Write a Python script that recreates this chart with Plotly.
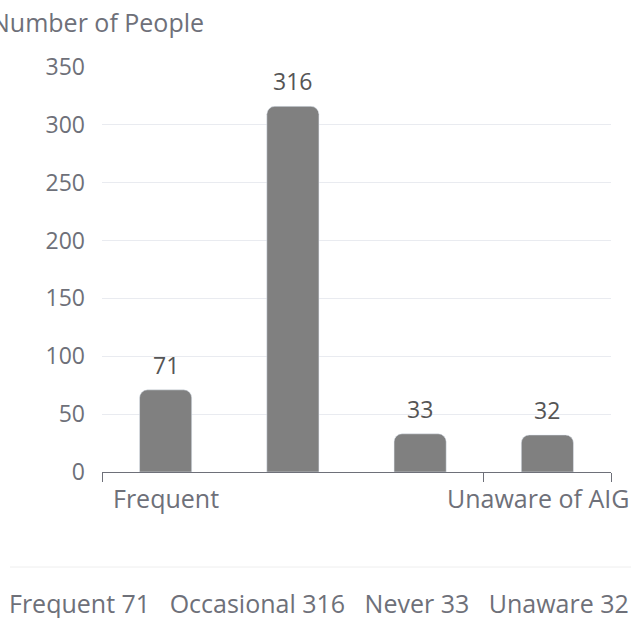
import plotly.graph_objects as go

categories = ["Frequent", "Occasional", "Never", "Unaware of AIG"]
short_names = ["Frequent", "Occasional", "Never", "Unaware"]
counts = [71, 316, 33, 32]
shown_label_idx = [0, 3]
y_ticks = [0, 50, 100, 150, 200, 250, 300, 350]

TXT = "#6E7079"
FONT = "Open Sans"

x = list(range(len(categories)))

fig = go.Figure()
fig.add_trace(go.Bar(
    x=x, y=counts,
    marker=dict(color="#808080", cornerradius=8),
    hoverinfo="skip",
))

annotations = []
# value labels above bars
for xi, v in zip(x, counts):
    annotations.append(dict(
        x=xi, y=v, xref="x", yref="y", text=str(v), showarrow=False,
        xanchor="center", yanchor="bottom", yshift=7,
        font=dict(size=23, color="#555555", family=FONT),
    ))

for i in shown_label_idx:
    annotations.append(dict(
        x=x[i], y=0, xref="x", yref="paper", text=categories[i],
        showarrow=False, yanchor="middle", yshift=-26,
        xshift=(-9 if i == len(categories) - 1 else 0),
        font=dict(size=25, color=TXT, family=FONT),
    ))

annotations.append(dict(
    x=0, y=1, xref="paper", yref="paper", text="Number of People",
    showarrow=False, xanchor="center", yanchor="middle", xshift=-5, yshift=45,
    font=dict(size=25, color=TXT, family=FONT),
))

legend_text = "&nbsp;&nbsp;&nbsp;".join(f"{n} {v}" for n, v in zip(short_names, counts))
annotations.append(dict(
    x=(319 - 102) / 509, y=0, xref="paper", yref="paper", text=legend_text,
    showarrow=False, xanchor="center", yanchor="middle", yshift=-131,
    font=dict(size=25, color=TXT, family=FONT),
))

fig.update_layout(
    width=631, height=618,
    margin=dict(l=102, r=20, t=67, b=146),
    paper_bgcolor="white", plot_bgcolor="white",
    showlegend=False,
    bargap=0.59,
    annotations=annotations,
    shapes=[dict(type="line", xref="paper", yref="paper",
                 x0=(10 - 102) / 509, x1=(631 - 102) / 509,
                 y0=-95 / 405, y1=-95 / 405, line=dict(color="#EEEEEE", width=1))],
    xaxis=dict(
        range=[-0.5, 3.5], showgrid=False, zeroline=False,
        showline=True, linecolor=TXT, linewidth=1,
        ticks="outside", ticklen=9, tickcolor=TXT,
        tickvals=[-0.5, 2.5, 3.5], showticklabels=False,
    ),
    yaxis=dict(
        range=[0, 350], tickvals=y_ticks, showgrid=True, gridcolor="#E9EBF0",
        zeroline=False, showline=False, ticks="",
        tickfont=dict(size=23, color=TXT, family=FONT), ticklabelstandoff=16,
    ),
)

fig.write_html("out.html")
